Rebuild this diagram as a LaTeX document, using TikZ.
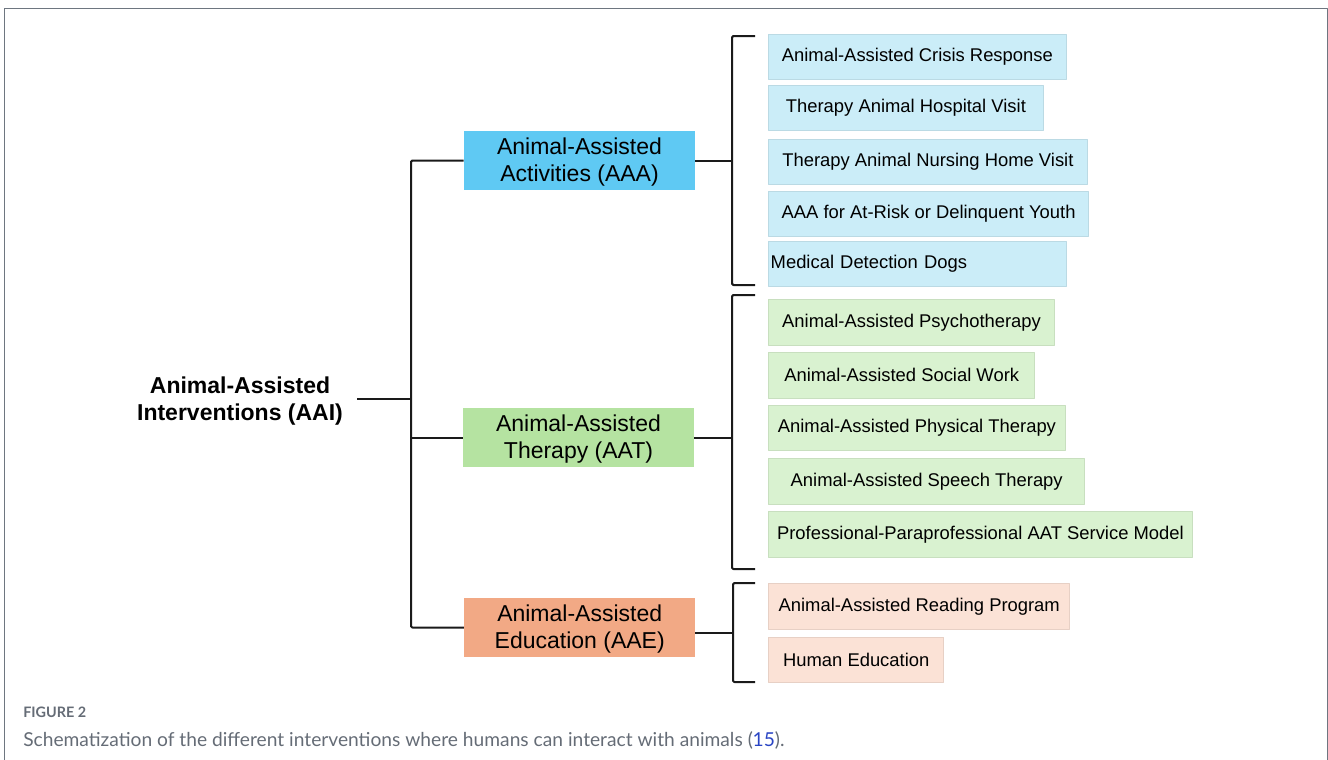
\documentclass[tikz,border=0pt]{standalone}
\usepackage{fontspec}
\setmainfont{Liberation Sans}
\newfontfamily\capfont{Lato}
\definecolor{ink}{HTML}{1A1A1A}
\definecolor{framecol}{HTML}{6E7680}
\definecolor{aaacol}{HTML}{5FC9F3}
\definecolor{aatcol}{HTML}{B5E3A1}
\definecolor{aaecol}{HTML}{F2A985}
\definecolor{subaaa}{HTML}{CBEDF8}
\definecolor{subaat}{HTML}{D9F2D0}
\definecolor{subaae}{HTML}{FBE2D6}
\definecolor{capgray}{HTML}{656C76}
\definecolor{capblue}{HTML}{2A45C4}

\begin{document}
\begin{tikzpicture}[
                x = 0.75pt, y = -0.75pt, % one unit is one pixel of the figure
                line join = round
            ]

            \tikzstyle{link}=[
            draw = ink,
            line width = 1.5pt,
            rounded corners = 1pt
            ]
            \tikzstyle{group}=[
            align = center,
            inner sep = 0pt,
            minimum width = 173.25pt,
            minimum height = 44.25pt,
            font = \fontsize{17.25}{20.25}\selectfont
            ]
            \tikzstyle{item}=[
            anchor = west,
            inner sep = 0pt,
            minimum height = 34pt,
            line width = 0.6pt,
            font = \fontsize{13.8}{16}\selectfont
            ]

            \useasboundingbox (0,0) rectangle (1328,760);
            \draw[framecol, line width = 0.75pt] (4,760) -- (4,8) -- (1327,8) -- (1327,760);

            % root and the three groups
            \node[align = center, inner xsep = 10.5pt, font = \fontsize{17.25}{20.25}\selectfont\bfseries]
                (aai) at (240,401) {Animal-Assisted\\Interventions (AAI)};
            \node[group, fill = aaacol] (aaa) at (579.5,160.5) {\strut Animal-Assisted\\Activities (AAA)};
            \node[group, fill = aatcol] (aat) at (578.5,437.5) {\strut Animal-Assisted\\Therapy (AAT)};
            \node[group, fill = aaecol] (aae) at (579.7,627.5) {\strut Animal-Assisted\\Education (AAE)};

            % activities
            \node[item, fill = subaaa, draw = subaaa!92!black, minimum width = 223pt] (aaa1) at (768.3,57.2) {Animal-Assisted Crisis Response};
            \node[item, fill = subaaa, draw = subaaa!92!black, minimum width = 205.8pt] (aaa2) at (768.3,108) {Therapy Animal Hospital Visit};
            \node[item, fill = subaaa, draw = subaaa!92!black, minimum width = 238.8pt] (aaa3) at (768.3,162) {Therapy Animal Nursing Home Visit};
            \node[item, fill = subaaa, draw = subaaa!92!black, minimum width = 239.8pt] (aaa4) at (768.3,214.2) {AAA for At-Risk or Delinquent Youth};
            \node[item, fill = subaaa, draw = subaaa!92!black, text width = 220pt, align = left, inner xsep = 1.5pt] (aaa5) at (768.3,264) {Medical Detection Dogs};

            % therapy
            \node[item, fill = subaat, draw = subaat!92!black, minimum width = 214.3pt] (aat1) at (768.3,322.5) {Animal-Assisted Psychotherapy};
            \node[item, fill = subaat, draw = subaat!92!black, minimum width = 199.5pt] (aat2) at (768.3,375.3) {Animal-Assisted Social Work};
            \node[item, fill = subaat, draw = subaat!92!black, minimum width = 222.3pt] (aat3) at (768.3,428) {Animal-Assisted Physical Therapy};
            \node[item, fill = subaat, draw = subaat!92!black, minimum width = 237pt] (aat4) at (768.3,481.3) {Animal-Assisted Speech Therapy};
            \node[item, fill = subaat, draw = subaat!92!black, minimum width = 317.6pt] (aat5) at (768.3,534.5) {Professional-Paraprofessional AAT Service Model};

            % education
            \node[item, fill = subaae, draw = subaae!92!black, minimum width = 225.8pt] (aae1) at (768.3,606.3) {Animal-Assisted Reading Program};
            \node[item, fill = subaae, draw = subaae!92!black, minimum width = 131.3pt] (aae2) at (768.3,659.7) {Human Education};

            % trunk
            \coordinate (trunk) at (411,399);
            \path[link] (aai.east |- trunk) -- (trunk);
            \path[link] (aaa.west) -| (trunk) |- (aae.west);
            \path[link] (aat.west) -- (aat.west -| trunk);

            % brackets
            \coordinate (aaaTop) at (755,36);
            \coordinate (aaaMid) at (732,160.5);
            \coordinate (aaaBot) at (755,285);
            \coordinate (aatTop) at (755,295);
            \coordinate (aatMid) at (732,437.5);
            \coordinate (aatBot) at (755,569);
            \coordinate (aaeTop) at (755,583);
            \coordinate (aaeMid) at (733,633);
            \coordinate (aaeBot) at (755,682);
            \path[link] (aaaTop) -| (aaaMid) |- (aaaBot);
            \path[link] (aatTop) -| (aatMid) |- (aatBot);
            \path[link] (aaeTop) -| (aaeMid) |- (aaeBot);
            \path[link] (aaa.east) -- (aaaMid);
            \path[link] (aat.east) -- (aatMid);
            \path[link] (aae.east |- aaeMid) -- (aaeMid);

            % caption
            \node[anchor = base west, inner sep = 0pt, text = capgray, font = \capfont\bfseries\fontsize{10.8}{13}\selectfont]
                (figno) at (23,717) {FIGURE 2};
            \node[anchor = base west, inner sep = 0pt, text = capgray, font = \capfont\fontsize{14.4}{17}\selectfont]
                (figcap) at (23,746) {Schematization of the different interventions where humans can interact with animals (\textcolor{capblue}{15}).};
        \end{tikzpicture}
\end{document}
